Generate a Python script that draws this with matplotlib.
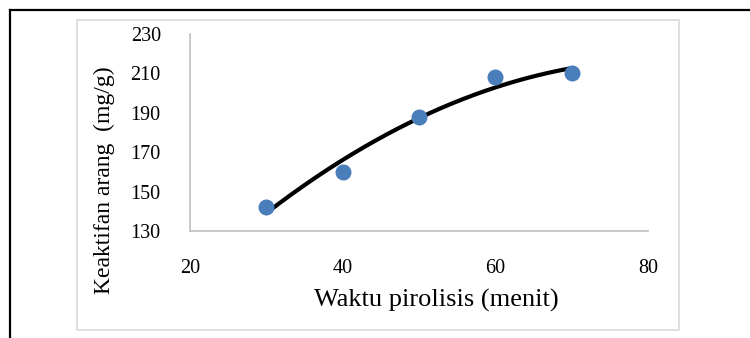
import matplotlib
matplotlib.use('Agg')
import matplotlib.pyplot as plt
from matplotlib.patches import Rectangle
from matplotlib.lines import Line2D
import numpy as np

plt.rcParams['font.family'] = ['Liberation Serif', 'DejaVu Serif']

# Data
waktu = [30, 40, 50, 60, 70]
keaktifan = [142, 160, 188, 208, 210]
x_ticks = [20, 40, 60, 80]
y_ticks = [130, 150, 170, 190, 210, 230]

W, H = 750, 338
fig = plt.figure(figsize=(W / 100, H / 100), dpi=100)

# outer black frame (only top and left visible)
fig.add_artist(Line2D([10 / W, 1], [1 - 10 / H, 1 - 10 / H], transform=fig.transFigure,
                      color='black', lw=1.6))
fig.add_artist(Line2D([10 / W, 10 / W], [0, 1 - 10 / H], transform=fig.transFigure,
                      color='black', lw=1.6))
# light gray chart area border
fig.add_artist(Rectangle((77 / W, 1 - 330 / H), (679 - 77) / W, (330 - 20) / H,
                         transform=fig.transFigure, fill=False, edgecolor='#D9D9D9', lw=1.2))

ax = fig.add_axes([190 / W, 1 - 231 / H, (648 - 190) / W, (231 - 34) / H])

# polynomial (order 2) trendline
coef = np.polyfit(waktu, keaktifan, 2)
xs = np.linspace(min(waktu), max(waktu), 200)
ax.plot(xs, np.polyval(coef, xs), color='black', lw=3, solid_capstyle='round', zorder=2)
ax.plot(waktu, keaktifan, 'o', color='#4A7EBB', markersize=10.5, zorder=3, clip_on=False)

ax.set_xlim(20, 80)
ax.set_ylim(130, 230)
ax.set_xticks(x_ticks)
ax.set_yticks(y_ticks)
ax.tick_params(length=0, labelsize=14.5)
ax.tick_params(axis='x', pad=20)
ax.tick_params(axis='y', pad=21)
for s in ['top', 'right']:
    ax.spines[s].set_visible(False)
for s in ['left', 'bottom']:
    ax.spines[s].set_color('#BFBFBF')
    ax.spines[s].set_linewidth(1.2)

ax.set_xlabel('Waktu pirolisis (menit)', fontsize=19, va='baseline')
ax.xaxis.set_label_coords(0.537, -0.384)
ax.set_ylabel('Keaktifan arang  (mg/g)', fontsize=17, va='center')
ax.yaxis.set_label_coords(-0.186, 0.259)

fig.savefig('out.png', dpi=100)
